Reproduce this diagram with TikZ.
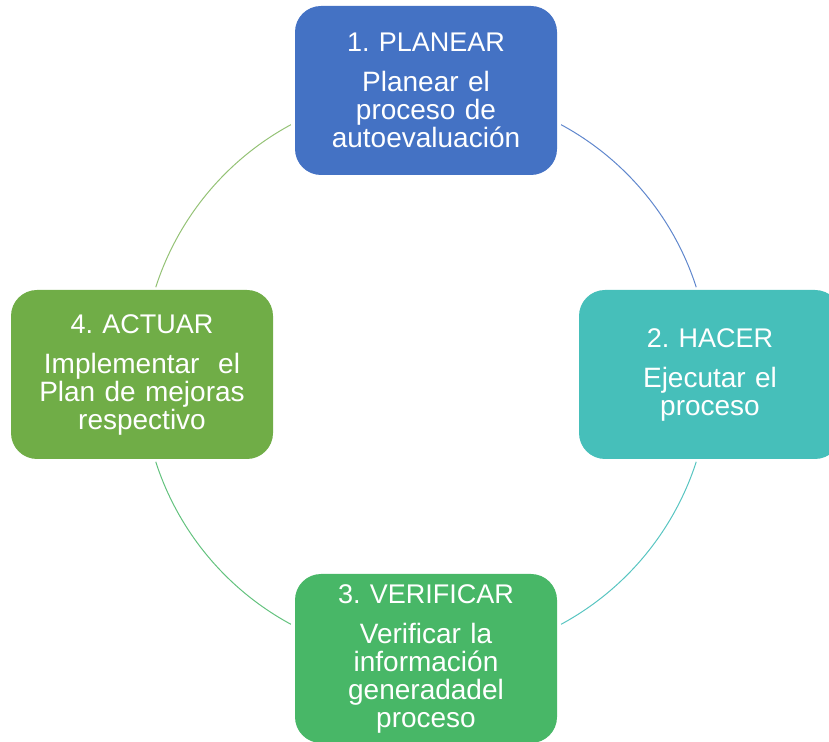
\documentclass[tikz,border=0pt]{standalone}
\usepackage{fontspec}
\setmainfont{Liberation Sans}
\definecolor{cBlue}{HTML}{4472C4}
\definecolor{cTeal}{HTML}{46BFBA}
\definecolor{cGreen}{HTML}{48B767}
\definecolor{cOlive}{HTML}{70AD47}
\newcommand\steptitle[1]{{\fontsize{27}{28}\selectfont #1}}
\frenchspacing
\begin{document}
\begin{tikzpicture}[x=1pt,y=1pt,
  stepbox/.style={rounded corners=26pt, minimum width=262pt, minimum height=169pt,
    inner sep=0pt, text=white, align=center, text width=255pt,
    font=\fontsize{28}{28}\selectfont\frenchspacing},
  ring/.style={line width=1pt}]
\useasboundingbox (0,0) rectangle (829,741);
\clip (0,0) rectangle (829,741);
\coordinate (c) at (426,366.5);
\def\R{284}
\draw[ring, cBlue!85] ([shift={(61.6:\R)}]c) arc[start angle=61.6, end angle=17.9, radius=\R];
\draw[ring, cTeal!90] ([shift={(-17.9:\R)}]c) arc[start angle=-17.9, end angle=-61.6, radius=\R];
\draw[ring, cGreen!85] ([shift={(-118.4:\R)}]c) arc[start angle=-118.4, end angle=-162.1, radius=\R];
\draw[ring, cOlive!75] ([shift={(162.1:\R)}]c) arc[start angle=162.1, end angle=118.4, radius=\R];
\node[stepbox, fill=cBlue] (plan) at (426,650.5)
  {\steptitle{1. PLANEAR}\\[12pt]Planear el\\proceso de\\autoevaluación};
\node[stepbox, fill=cTeal] (hacer) at (710,366.5)
  {\steptitle{2. HACER}\\[12pt]Ejecutar el\\proceso};
\node[stepbox, fill=cGreen] (verif) at (426,82.5)
  {\steptitle{3. VERIFICAR}\\[12pt]Verificar la\\información\\generadadel\\proceso};
\node[stepbox, fill=cOlive] (actuar) at (142,366.5)
  {\steptitle{4. ACTUAR}\\[12pt]Implementar~ el\\Plan de mejoras\\respectivo};
\end{tikzpicture}
\end{document}
